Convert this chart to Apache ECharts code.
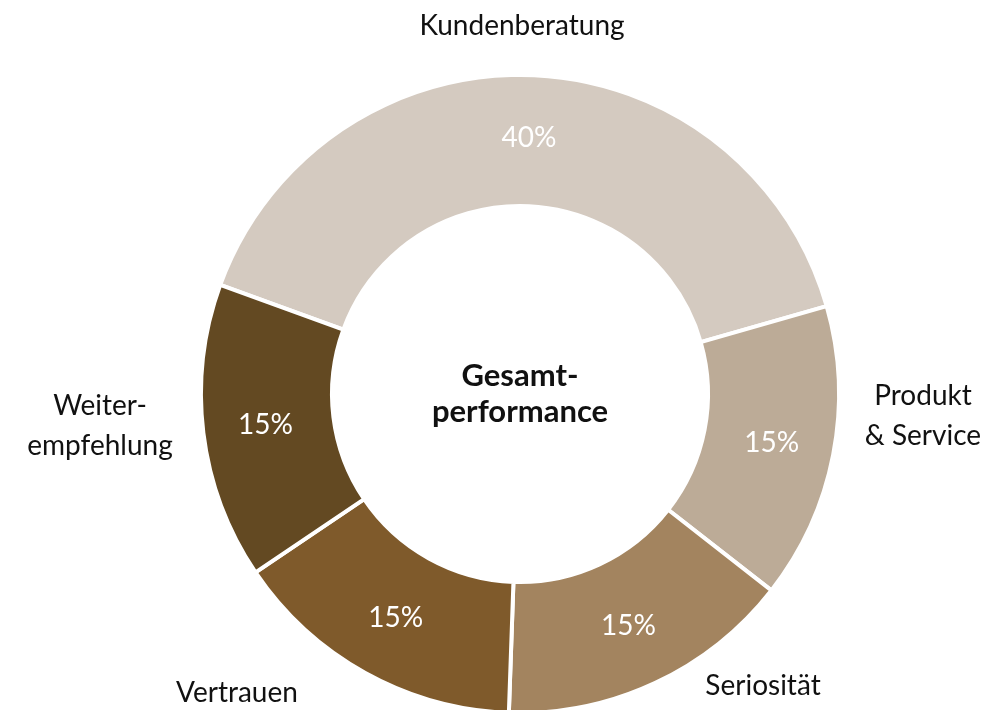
<!DOCTYPE html>
<html>
<head>
<meta charset="utf-8">
<script src="https://cdn.jsdelivr.net/npm/echarts@6/dist/echarts.min.js"></script>
<style>
  html, body { margin: 0; padding: 0; background: #fff; }
  #chart { width: 1007px; height: 710px; }
</style>
</head>
<body>
<div id="chart"></div>
<script>
var categories = ['Kundenberatung', 'Produkt\n& Service', 'Seriosität', 'Vertrauen', 'Weiter-\nempfehlung'];
var shares = [40, 15, 15, 15, 15];
var colors = ['#d4cac0', '#bcab97', '#a3845f', '#7f5a2b', '#634922'];
var centerText = 'Gesamt-\nperformance';

// where the outer names sit (label centres)
var namePos = [[522, 26], [923, 416], [763, 686], [237, 693], [100, 426]];

var fontFam = 'Lato, "Open Sans", sans-serif';
var center = [520, 394];
var radius = [188, 319];

var data = categories.map(function (c, i) {
    return { name: c, value: shares[i], itemStyle: { color: colors[i] } };
});

var chart = echarts.init(document.getElementById('chart'));
chart.setOption({
    animation: false,
    series: [{
        type: 'pie',
        center: center,
        radius: radius,
        startAngle: 160,
        clockwise: true,
        silent: true,
        itemStyle: { borderColor: '#fff', borderWidth: 4 },
        label: {
            show: true,
            position: 'inside',
            formatter: '{c}%',
            color: '#fff',
            fontFamily: fontFam,
            fontSize: 28
        },
        labelLine: { show: false },
        data: data
    }, {
        // invisible copy, only carries the category names
        type: 'pie',
        center: center,
        radius: radius,
        startAngle: 160,
        silent: true,
        z: 1,
        itemStyle: { color: 'rgba(0,0,0,0)', borderWidth: 0 },
        label: {
            show: true,
            position: 'outside',
            formatter: '{b}',
            color: '#111',
            fontFamily: fontFam,
            fontSize: 28,
            lineHeight: 40,
            width: 200,
            overflow: 'none'
        },
        labelLine: { show: false },
        labelLayout: function (params) {
            var p = namePos[params.dataIndex];
            return { x: p[0], y: p[1], align: 'center', verticalAlign: 'middle' };
        },
        data: categories.map(function (c, i) {
            return { name: c, value: shares[i] };
        })
    }],
    graphic: [{
        type: 'text',
        x: center[0],
        y: center[1],
        style: {
            text: centerText,
            align: 'center',
            verticalAlign: 'middle',
            fill: '#111',
            font: 'bold 31px ' + fontFam,
            lineHeight: 36
        }
    }]
});
</script>
</body>
</html>
